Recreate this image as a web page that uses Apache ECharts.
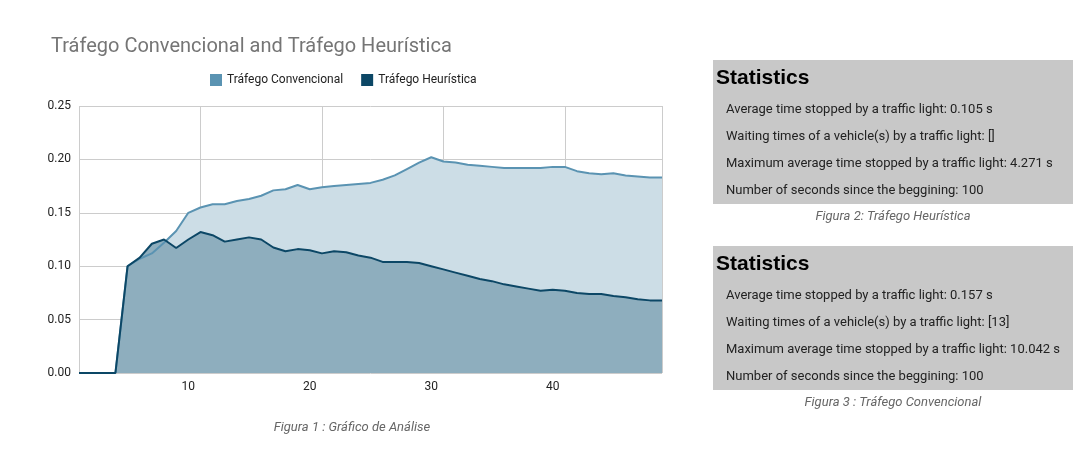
<!DOCTYPE html>
<html>
<head>
<meta charset="utf-8">
<script src="https://cdn.jsdelivr.net/npm/echarts@6/dist/echarts.min.js"></script>
<style>html,body{margin:0;background:#fff}#c{width:1086px;height:450px}</style>
</head>
<body>
<div id="c"></div>
<script>
const xs = [];
for (let i = 1; i <= 49; i++) xs.push(i);
const convencional = [0, 0, 0, 0, 0.100, 0.107, 0.112, 0.122, 0.133, 0.150, 0.155, 0.158, 0.158, 0.161, 0.163, 0.166, 0.171, 0.172, 0.176, 0.172,
  0.174, 0.175, 0.176, 0.177, 0.178, 0.181, 0.185, 0.191, 0.197, 0.202, 0.198, 0.197, 0.195, 0.194, 0.193, 0.192, 0.192, 0.192, 0.192, 0.193,
  0.193, 0.189, 0.187, 0.186, 0.187, 0.185, 0.184, 0.183, 0.183];
const heuristica = [0, 0, 0, 0, 0.100, 0.108, 0.121, 0.125, 0.117, 0.125, 0.132, 0.129, 0.123, 0.125, 0.127, 0.125, 0.1175, 0.114, 0.116, 0.115,
  0.112, 0.114, 0.113, 0.110, 0.108, 0.104, 0.104, 0.104, 0.103, 0.100, 0.097, 0.094, 0.091, 0.088, 0.086, 0.083, 0.081, 0.079, 0.077, 0.078,
  0.077, 0.075, 0.074, 0.074, 0.072, 0.071, 0.069, 0.068, 0.068];
const statsHeur = ['Average time stopped by a traffic light: 0.105 s', 'Waiting times of a vehicle(s) by a traffic light: []',
  'Maximum average time stopped by a traffic light: 4.271 s', 'Number of seconds since the beggining: 100'];
const statsConv = ['Average time stopped by a traffic light: 0.157 s', 'Waiting times of a vehicle(s) by a traffic light: [13]',
  'Maximum average time stopped by a traffic light: 10.042 s', 'Number of seconds since the beggining: 100'];

const pair = (arr) => arr.map((v, i) => [xs[i], v]);

function statBox(top, lines, caption) {
  const els = [
    { type: 'rect', shape: { x: 713, y: top, width: 360, height: 144 }, style: { fill: '#c8c8c8' } },
    { type: 'text', x: 716, y: top + 8, style: { text: 'Statistics', font: 'bold 21px "Liberation Sans", Arial', fill: '#000' } },
  ];
  lines.forEach((t, i) => {
    els.push({ type: 'text', x: 726, y: top + 43 + i * 27, style: { text: t, font: '13px Roboto, Arial', fill: '#222' } });
  });
  els.push({ type: 'text', x: 893, y: top + 150, style: { text: caption, font: 'italic 13px Roboto, Arial', fill: '#666', align: 'center' } });
  return els;
}

const chart = echarts.init(document.getElementById('c'));
chart.setOption({
  animation: false,
  textStyle: { fontFamily: 'Roboto, Arial' },
  title: { text: 'Tráfego Convencional and Tráfego Heurística', left: 46, top: 32,
    textStyle: { fontSize: 20, fontWeight: 'normal', color: '#757575' } },
  legend: { top: 69, left: 205, icon: 'rect', itemWidth: 12, itemHeight: 12, itemGap: 18,
    textStyle: { fontSize: 12, color: '#222' } },
  grid: { left: 79, right: 424, top: 106, bottom: 77 },
  xAxis: { type: 'value', min: 1, max: 49, interval: 10,
    axisLine: { show: false }, axisTick: { show: false },
    axisLabel: { color: '#222', fontSize: 12, formatter: (v) => (v % 10 === 0 ? v : '') , customValues: [10, 20, 30, 40] },
    splitLine: { show: true, lineStyle: { color: '#ccc' } }, splitNumber: 5 },
  yAxis: { type: 'value', min: 0, max: 0.25, interval: 0.05,
    axisLine: { show: false }, axisTick: { show: false },
    axisLabel: { color: '#222', fontSize: 12, formatter: (v) => v.toFixed(2), margin: 8 },
    splitLine: { lineStyle: { color: '#ccc' } } },
  series: [
    { name: 'Tráfego Convencional', type: 'line', data: pair(convencional), symbol: 'none',
      itemStyle: { color: '#5a93b2' }, lineStyle: { width: 2, color: '#5a93b2' },
      areaStyle: { color: '#ccdde6', opacity: 1 } },
    { name: 'Tráfego Heurística', type: 'line', data: pair(heuristica), symbol: 'none',
      itemStyle: { color: '#0c4766' }, lineStyle: { width: 2, color: '#0c4766' },
      areaStyle: { color: '#8eaebe', opacity: 1 } },
  ],
  graphic: [
    { type: 'text', x: 352, y: 421, style: { text: 'Figura 1 : Gráfico de Análise', font: 'italic 13px Roboto, Arial', fill: '#666', align: 'center' } },
    ...statBox(60, statsHeur, 'Figura 2: Tráfego Heurística'),
    ...statBox(246, statsConv, 'Figura 3 : Tráfego Convencional'),
  ],
});
</script>
</body>
</html>
